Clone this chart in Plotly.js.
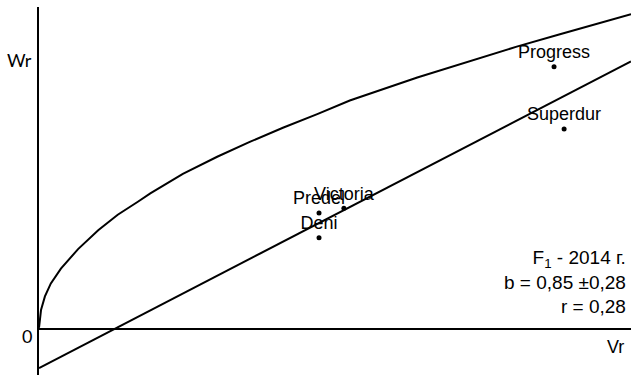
<!DOCTYPE html>
<html>
<head>
<meta charset="utf-8">
<script src="https://cdn.plot.ly/plotly-3.0.1.min.js"></script>
<style>
  html, body { margin: 0; padding: 0; background: #fff; }
  #chart { width: 631px; height: 375px; }
</style>
</head>
<body>
<div id="chart"></div>
<script>
// --- DATA ---
const varieties = ['Progress', 'Superdur', 'Victoria', 'Predel', 'Deni'];
const vrValues = [8.70, 8.87, 5.15, 4.73, 4.73];
const wrValues = [4.43, 3.38, 2.04, 1.96, 1.54];

// limiting parabola, points
const curveX = [0, 0.01, 0.034, 0.10, 0.20, 0.37, 0.66, 1.00, 1.33, 1.67, 1.88, 2.43, 3.01, 3.56, 4.12, 4.70, 5.25, 6.39, 7.50, 8.07, 8.80, 9.53, 10.0];
const curveY = [0.02, 0.16, 0.32, 0.55, 0.77, 1.02, 1.35, 1.67, 1.93, 2.15, 2.29, 2.62, 2.91, 3.16, 3.40, 3.63, 3.86, 4.25, 4.60, 4.77, 4.98, 5.19, 5.32];

// regression line ends
const lineX = [0, 10];
const lineY = [-0.66, 4.52];

const statLines = ['F<sub>1</sub> - 2014 г.', 'b = 0,85 ±0,28', 'r = 0,28'];

// --- TRACES ---
let traceCurve = {
    x: curveX,
    y: curveY,
    mode: 'lines',
    line: { color: 'black', width: 2 },
    hoverinfo: 'none'
};

let traceLine = {
    x: lineX,
    y: lineY,
    mode: 'lines',
    line: { color: 'black', width: 2 },
    hoverinfo: 'none'
};

let tracePoints = {
    x: vrValues,
    y: wrValues,
    text: varieties,
    mode: 'markers+text',
    textposition: 'top center',
    textfont: { family: 'Liberation Sans, Arial, sans-serif', size: 18, color: 'black' },
    marker: { size: 5, color: 'black' },
    cliponaxis: false
};

const labelFont = { family: 'Liberation Sans, Arial, sans-serif', size: 18, color: 'black' };

let layout = {
    width: 631,
    height: 375,
    showlegend: false,
    paper_bgcolor: 'white',
    plot_bgcolor: 'white',
    margin: { l: 39, r: 0, t: 7, b: 0 },
    xaxis: {
        range: [0, 10],
        showgrid: false,
        zeroline: false,
        showline: false,
        showticklabels: false,
        ticks: ''
    },
    yaxis: {
        range: [-0.777, 5.44],
        showgrid: false,
        zeroline: true,
        zerolinecolor: 'black',
        zerolinewidth: 2,
        showline: true,
        linecolor: 'black',
        linewidth: 2,
        showticklabels: false,
        ticks: ''
    },
    annotations: [
        { text: 'Wr', xref: 'paper', x: 0, xanchor: 'right', xshift: -5, yref: 'y', y: 4.54, yanchor: 'middle',
          showarrow: false, font: { family: 'Lato, sans-serif', size: 18, color: 'black' } },
        { text: '0', xref: 'paper', x: 0, xanchor: 'right', xshift: -5, yref: 'y', y: 0, yanchor: 'middle', yshift: -7,
          showarrow: false, font: { family: 'Lato, sans-serif', size: 18, color: 'black' } },
        { text: 'Vr', xref: 'x', x: 9.73, yref: 'y', y: -0.30, xanchor: 'center', yanchor: 'middle',
          showarrow: false, font: labelFont },
        { text: statLines.join('<br>'), xref: 'x', x: 9.95, yref: 'y', y: 0.80, xanchor: 'right', yanchor: 'middle',
          align: 'right', showarrow: false,
          font: { family: 'Liberation Sans, Arial, sans-serif', size: 19, color: 'black' } }
    ]
};

Plotly.newPlot('chart', [traceCurve, traceLine, tracePoints], layout, { staticPlot: true });
</script>
</body>
</html>
